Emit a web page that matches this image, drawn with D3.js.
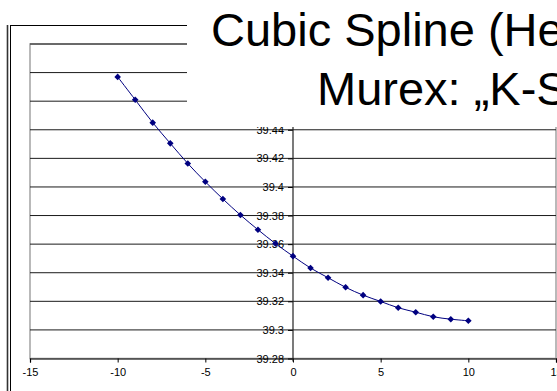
<!DOCTYPE html>
<html>
<head>
<meta charset="utf-8">
<script src="https://cdn.jsdelivr.net/npm/d3@7"></script>
<style>
  html, body { margin: 0; padding: 0; background: #fff; overflow: hidden; }
  svg { display: block; font-family: "Liberation Sans", Arial, Helvetica, sans-serif; }
</style>
</head>
<body>
<svg id="chart" width="557" height="391"></svg>
<script>
// Spline nodes: tenor offset and interpolated value
const xValues = [-10, -9, -8, -7, -6, -5, -4, -3, -2, -1, 0, 1, 2, 3, 4, 5, 6, 7, 8, 9, 10];
const yValues = [39.477, 39.461, 39.445, 39.4305, 39.4164, 39.4036, 39.3916, 39.3804, 39.3701, 39.3604,
                 39.3516, 39.3433, 39.3365, 39.3298, 39.3243, 39.3199, 39.3155, 39.3124, 39.3092, 39.3075, 39.3064];

// Axis settings
const xTicks = [-15, -10, -5, 0, 5, 10, 15];
const yGrid = [39.28, 39.30, 39.32, 39.34, 39.36, 39.38, 39.40, 39.42, 39.44, 39.46, 39.48, 39.50];
const yTickLabels = ["39.28", "39.3", "39.32", "39.34", "39.36", "39.38", "39.4", "39.42", "39.44"];
const titleLines = ["Cubic Spline (Hermite)", "Murex: \u201EK-Spline\u201C"];

const svg = d3.select("#chart");
const W = 557, H = 391;

const x = d3.scaleLinear().domain([-15, 15]).range([30, 556]);
const y = d3.scaleLinear().domain([39.28, 39.50]).range([358.5, 44]);

svg.append("rect").attr("width", W).attr("height", H).attr("fill", "#fff");

// Outer chart frame (left double rule and top rule)
svg.append("line").attr("x1", 7.5).attr("x2", 7.5).attr("y1", 25).attr("y2", H)
  .attr("stroke", "#333").attr("stroke-width", 1.6);
svg.append("line").attr("x1", 10.5).attr("x2", 10.5).attr("y1", 25).attr("y2", H)
  .attr("stroke", "#000").attr("stroke-width", 1);
svg.append("line").attr("x1", 10).attr("x2", W).attr("y1", 25.5).attr("y2", 25.5)
  .attr("stroke", "#000").attr("stroke-width", 1);

// Plot area border
svg.append("rect")
  .attr("x", x(-15)).attr("y", y(39.50))
  .attr("width", x(15) - x(-15)).attr("height", y(39.28) - y(39.50))
  .attr("fill", "none").attr("stroke", "#a8a8a8").attr("stroke-width", 1.6);

// Horizontal gridlines
svg.append("g").selectAll("line").data(yGrid.slice(1)).join("line")
  .attr("x1", x(-15)).attr("x2", x(15))
  .attr("y1", d => y(d)).attr("y2", d => y(d))
  .attr("stroke", "#1a1a1a").attr("stroke-width", 1);

// X axis along the bottom
const xAxis = d3.axisBottom(x).tickValues(xTicks).tickSize(4).tickPadding(6)
  .tickFormat(d => String(d));
const gx = svg.append("g").attr("transform", `translate(0,${y(39.28)})`).call(xAxis);
gx.select(".domain").attr("stroke", "#000").attr("stroke-width", 1.2);
gx.selectAll(".tick line").attr("stroke", "#000");
gx.selectAll(".tick text").attr("font-size", 11).attr("fill", "#000")
  .attr("font-family", "'Liberation Sans', Arial, sans-serif");

// Y axis crossing at x = 0
const yAxis = d3.axisLeft(y).tickValues(yGrid.slice(0, yTickLabels.length))
  .tickSize(5).tickPadding(4).tickSizeOuter(0)
  .tickFormat((d, i) => yTickLabels[i]);
const gy = svg.append("g").attr("transform", `translate(${x(0)},0)`).call(yAxis);
gy.select(".domain").remove();
gy.append("line").attr("x1", 0).attr("x2", 0)
  .attr("y1", y(39.50)).attr("y2", y(39.28) + 3)
  .attr("stroke", "#222").attr("stroke-width", 1.2);
gy.selectAll(".tick line").attr("stroke", "#000");
gy.selectAll(".tick text").attr("font-size", 11).attr("fill", "#000")
  .attr("font-family", "'Liberation Sans', Arial, sans-serif");

// Smoothed series line
const pts = xValues.map((v, i) => [v, yValues[i]]);
const line = d3.line().x(d => x(d[0])).y(d => y(d[1])).curve(d3.curveCatmullRom.alpha(0));
svg.append("path").datum(pts).attr("d", line)
  .attr("fill", "none").attr("stroke", "#000080").attr("stroke-width", 1);

// Diamond markers
const diamond = r => `M0,${-r}L${r},0L0,${r}L${-r},0Z`;
svg.append("g").selectAll("path").data(pts).join("path")
  .attr("transform", d => `translate(${x(d[0])},${y(d[1])})`)
  .attr("d", diamond(3.3))
  .attr("fill", "#000080");

// Title block with white background
svg.append("rect").attr("x", 187).attr("y", 0).attr("width", W - 187).attr("height", 127)
  .attr("fill", "#fff");
svg.append("g").selectAll("text").data(titleLines).join("text")
  .attr("x", (d, i) => i === 0 ? 211 : 317)
  .attr("y", (d, i) => i === 0 ? 46 : 104.5)
  .attr("font-size", 47)
  .attr("fill", "#000")
  .text(d => d);
</script>
</body>
</html>
